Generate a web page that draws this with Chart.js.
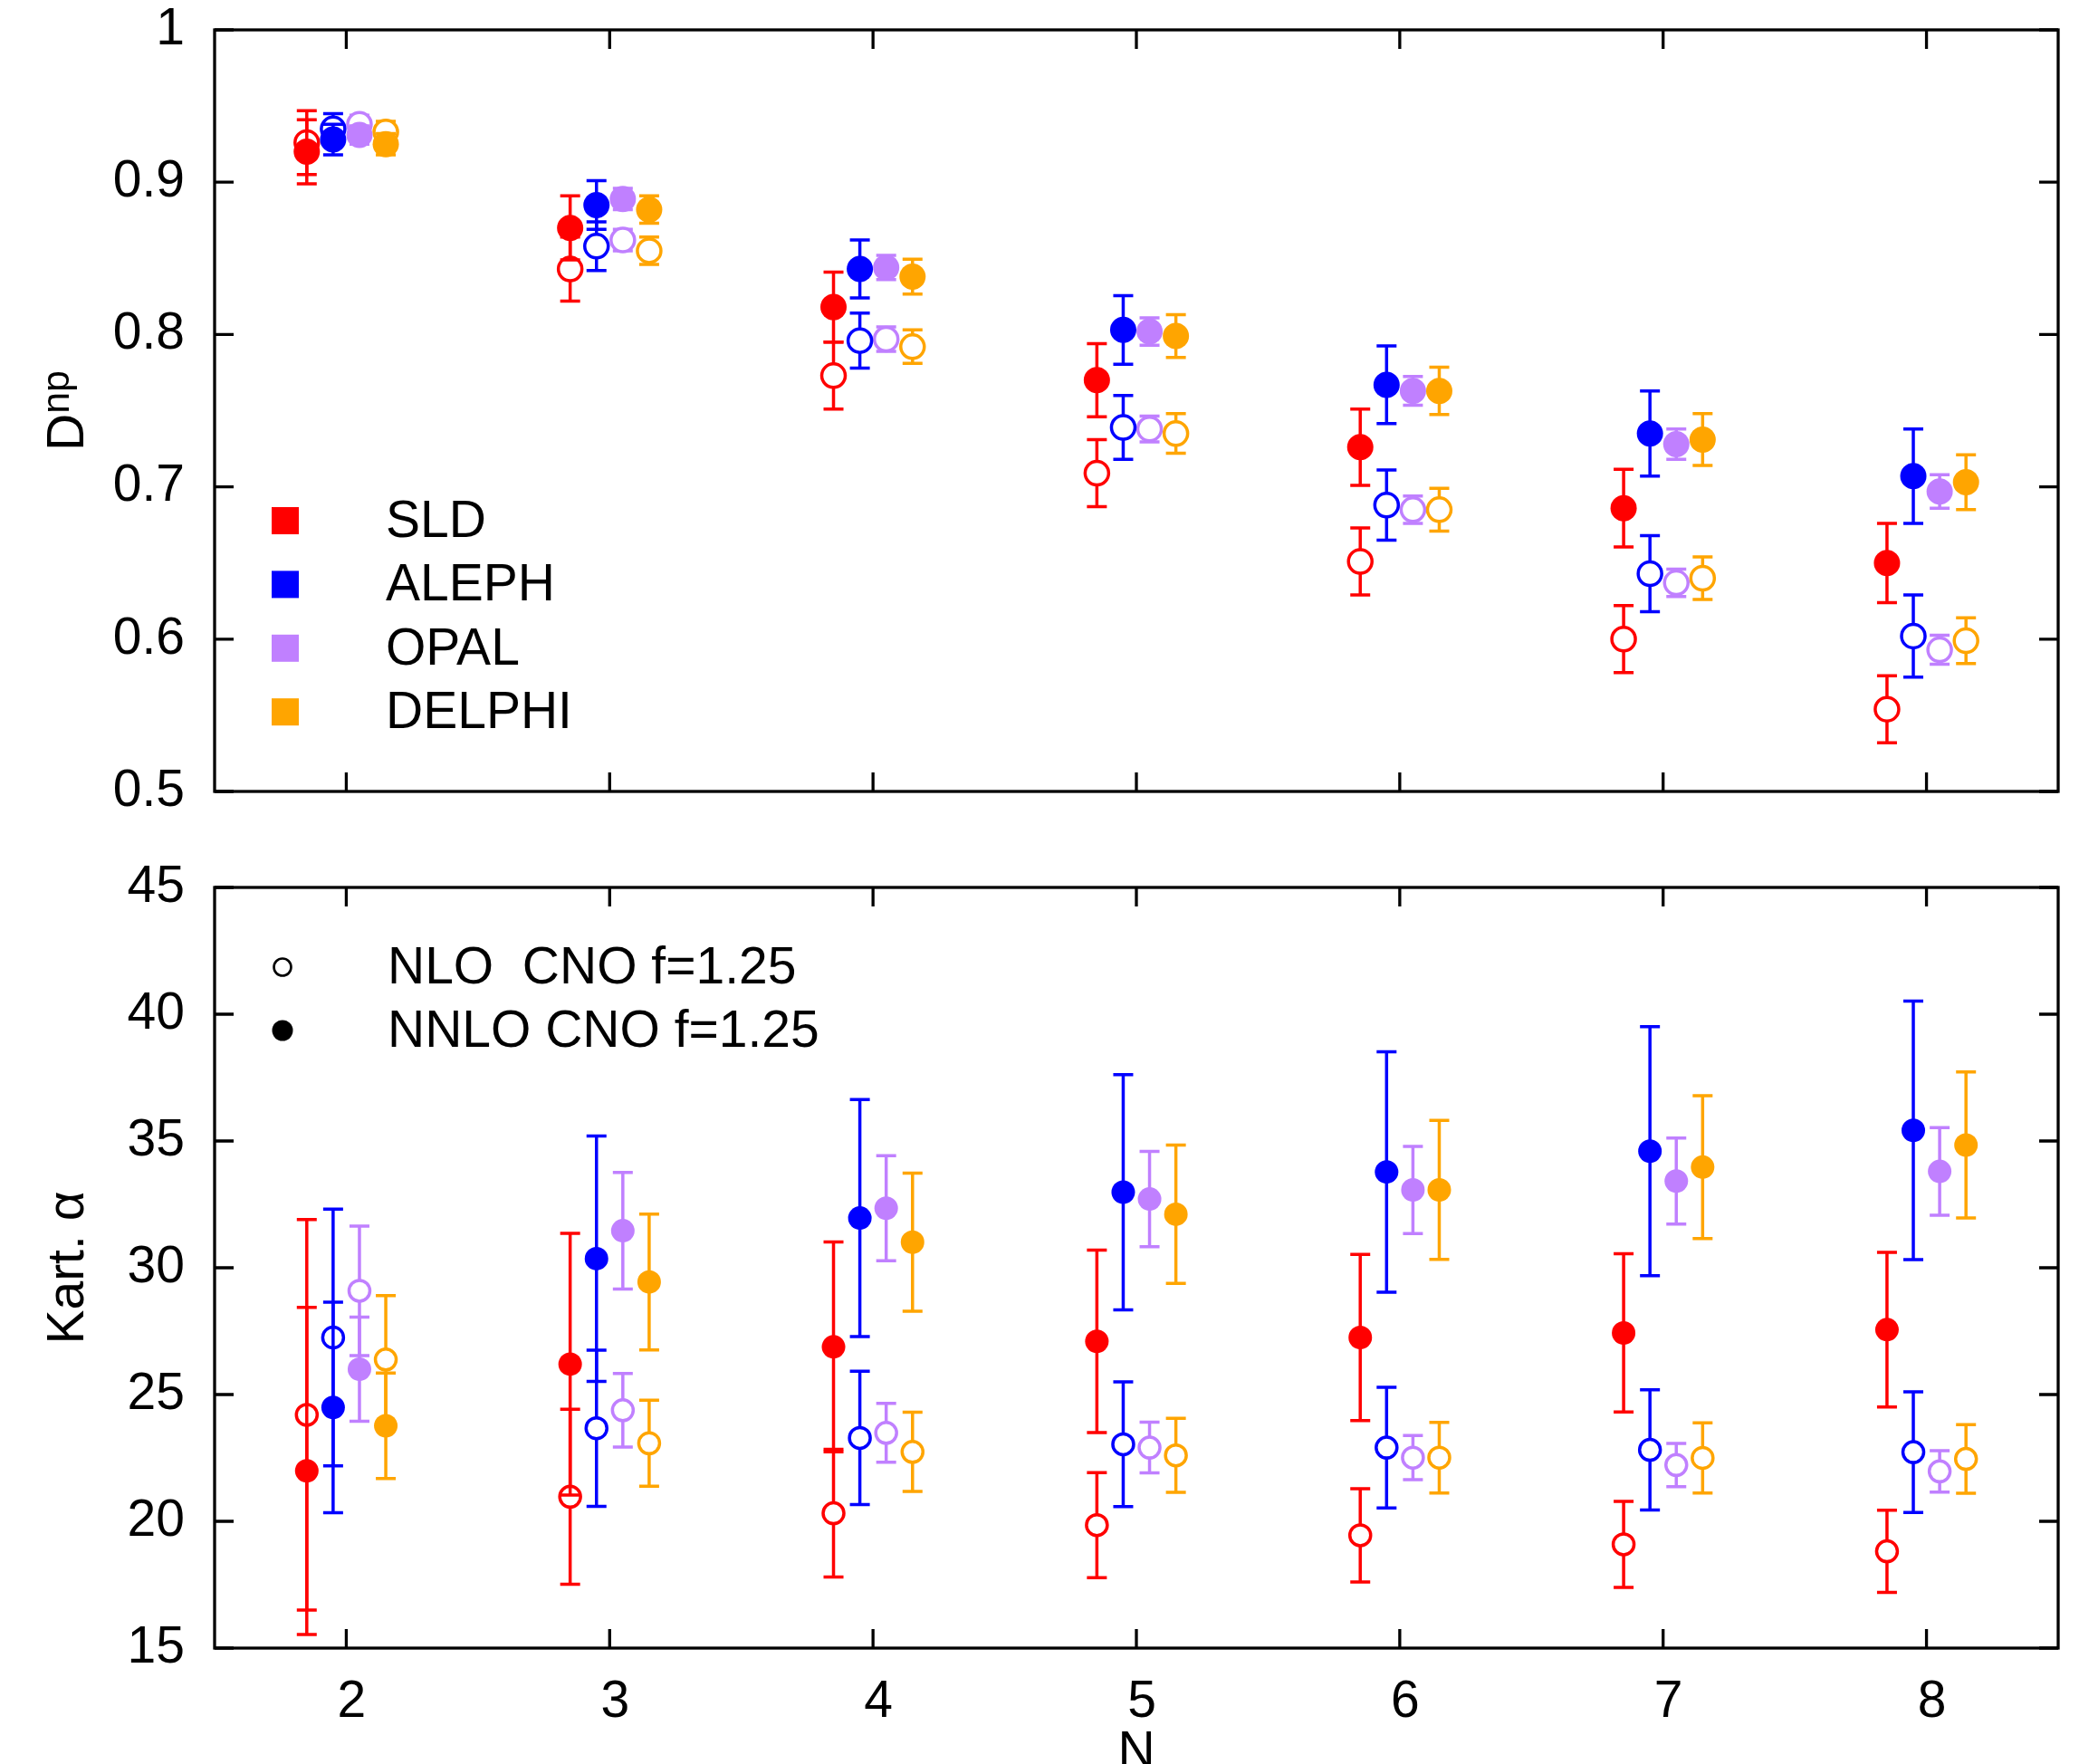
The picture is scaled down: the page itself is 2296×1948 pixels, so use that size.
<!DOCTYPE html>
<html>
<head>
<meta charset="utf-8">
<script src="https://cdn.jsdelivr.net/npm/chart.js@4.4.1/dist/chart.umd.min.js"></script>
<style>
  body { margin: 0; background: #fff; }
  canvas { display: block; }
</style>
</head>
<body>
<canvas id="topChart" width="2296" height="940"></canvas>
<canvas id="bottomChart" width="2296" height="1008"></canvas>
<script>
// N values and experiments
const nValues = [2, 3, 4, 5, 6, 7, 8];
const experiments = ['SLD', 'ALEPH', 'OPAL', 'DELPHI'];
const orderLabels = ['NLO  CNO f=1.25', 'NNLO CNO f=1.25'];
const dnpTicks = [0.5, 0.6, 0.7, 0.8, 0.9, 1];
const kartTicks = [15, 20, 25, 30, 35, 40, 45];

// D^np, NLO (open circles)
const dnpNloSLD = [0.926, 0.843, 0.773, 0.709, 0.651, 0.600, 0.554];
const dnpNloSLDErr = [0.021, 0.021, 0.022, 0.022, 0.022, 0.022, 0.022];
const dnpNloALEPH = [0.935, 0.858, 0.796, 0.739, 0.688, 0.643, 0.602];
const dnpNloALEPHErr = [0.010, 0.016, 0.018, 0.021, 0.023, 0.025, 0.027];
const dnpNloOPAL = [0.938, 0.862, 0.797, 0.738, 0.685, 0.637, 0.593];
const dnpNloOPALErr = [0.006, 0.007, 0.008, 0.0085, 0.009, 0.009, 0.0095];
const dnpNloDELPHI = [0.933, 0.855, 0.792, 0.735, 0.685, 0.640, 0.599];
const dnpNloDELPHIErr = [0.007, 0.009, 0.011, 0.013, 0.014, 0.014, 0.015];

// D^np, NNLO (filled circles)
const dnpNnloSLD = [0.920, 0.870, 0.818, 0.770, 0.726, 0.686, 0.650];
const dnpNnloSLDErr = [0.021, 0.021, 0.023, 0.024, 0.025, 0.0255, 0.026];
const dnpNnloALEPH = [0.928, 0.885, 0.843, 0.803, 0.767, 0.735, 0.707];
const dnpNnloALEPHErr = [0.010, 0.016, 0.019, 0.0225, 0.0255, 0.028, 0.031];
const dnpNnloOPAL = [0.931, 0.889, 0.844, 0.802, 0.763, 0.728, 0.697];
const dnpNnloOPALErr = [0.006, 0.007, 0.008, 0.009, 0.0095, 0.010, 0.011];
const dnpNnloDELPHI = [0.925, 0.882, 0.838, 0.799, 0.763, 0.731, 0.703];
const dnpNnloDELPHIErr = [0.007, 0.009, 0.0115, 0.014, 0.0155, 0.017, 0.018];

// Kart. alpha, NLO (open circles)
const kartNloSLD = [24.2, 20.97, 20.32, 19.85, 19.45, 19.09, 18.82];
const kartNloSLDErr = [7.7, 3.45, 2.52, 2.07, 1.84, 1.70, 1.62];
const kartNloALEPH = [27.25, 23.67, 23.29, 23.04, 22.91, 22.82, 22.73];
const kartNloALEPHErr = [5.06, 3.08, 2.63, 2.46, 2.38, 2.37, 2.38];
const kartNloOPAL = [29.09, 24.38, 23.49, 22.91, 22.51, 22.22, 21.97];
const kartNloOPALErr = [2.55, 1.45, 1.16, 1.0, 0.87, 0.85, 0.82];
const kartNloDELPHI = [26.38, 23.08, 22.74, 22.6, 22.51, 22.5, 22.46];
const kartNloDELPHIErr = [2.52, 1.70, 1.56, 1.46, 1.39, 1.38, 1.35];

// Kart. alpha, NNLO (filled circles)
const kartNnloSLD = [21.99, 26.2, 26.88, 27.1, 27.25, 27.43, 27.56];
const kartNnloSLDErr = [6.45, 5.16, 4.14, 3.6, 3.28, 3.12, 3.05];
const kartNnloALEPH = [24.49, 30.36, 31.96, 32.98, 33.78, 34.6, 35.42];
const kartNnloALEPHErr = [4.15, 4.84, 4.67, 4.64, 4.74, 4.91, 5.1];
const kartNnloOPAL = [26.0, 31.46, 32.35, 32.71, 33.07, 33.42, 33.8];
const kartNnloOPALErr = [2.05, 2.3, 2.07, 1.88, 1.72, 1.7, 1.73];
const kartNnloDELPHI = [23.77, 29.44, 31.01, 32.11, 33.07, 33.97, 34.84];
const kartNnloDELPHIErr = [2.08, 2.68, 2.72, 2.73, 2.74, 2.82, 2.88];

// styling
const colors = ['#ff0000', '#0000ff', '#c080ff', '#ffa500'];
const offsets = [-0.15, -0.05, 0.05, 0.15]; // horizontal shift of each experiment
const FONT = '"Liberation Sans", Arial, Helvetica, sans-serif';
const FS = 57;
const LW = 3.5;

Chart.defaults.font.family = FONT;
Chart.defaults.color = '#000';

// error bars drawn just before each dataset so the circles sit on top
const errorBars = {
  id: 'errorBars',
  beforeDatasetDraw(chart, args) {
    const ds = chart.data.datasets[args.index];
    const yScale = chart.scales.y;
    const ctx = chart.ctx;
    ctx.save();
    ctx.strokeStyle = ds.pointBorderColor;
    ctx.lineWidth = LW;
    ds.data.forEach((p, i) => {
      const x = args.meta.data[i].x;
      const top = yScale.getPixelForValue(p.y + p.err);
      const bot = yScale.getPixelForValue(p.y - p.err);
      ctx.beginPath();
      ctx.moveTo(x, top); ctx.lineTo(x, bot);
      ctx.moveTo(x - 11, top); ctx.lineTo(x + 11, top);
      ctx.moveTo(x - 11, bot); ctx.lineTo(x + 11, bot);
      ctx.stroke();
    });
    ctx.restore();
  }
};

// box round the plot with inward ticks on all four sides
const frame = {
  id: 'frame',
  afterDraw(chart) {
    const { ctx, chartArea: a } = chart;
    const xs = chart.scales.x, ys = chart.scales.y;
    ctx.save();
    ctx.strokeStyle = '#000';
    ctx.lineWidth = 3.3;
    ctx.strokeRect(a.left, a.top, a.right - a.left, a.bottom - a.top);
    ctx.beginPath();
    xs.ticks.forEach(t => {
      const px = xs.getPixelForValue(t.value);
      ctx.moveTo(px, a.bottom); ctx.lineTo(px, a.bottom - 21);
      ctx.moveTo(px, a.top); ctx.lineTo(px, a.top + 21);
    });
    ys.ticks.forEach(t => {
      const py = ys.getPixelForValue(t.value);
      ctx.moveTo(a.left, py); ctx.lineTo(a.left + 21, py);
      ctx.moveTo(a.right, py); ctx.lineTo(a.right - 21, py);
    });
    ctx.stroke();
    ctx.restore();
  }
};

// axis titles + legends for each panel
const decor = {
  id: 'decor',
  afterDraw(chart, args, opts) {
    const ctx = chart.ctx;
    const a = chart.chartArea;
    const cy = (a.top + a.bottom) / 2;
    ctx.save();
    ctx.fillStyle = '#000';
    ctx.textBaseline = 'alphabetic';

    // rotated y title, baseline at x=92
    ctx.save();
    ctx.translate(92, cy);
    ctx.rotate(-Math.PI / 2);
    if (opts.panel === 'top') {
      ctx.font = FS + 'px ' + FONT;
      const wD = ctx.measureText('D').width;
      ctx.font = '43px ' + FONT;
      const wSup = ctx.measureText('np').width;
      const start = -(wD + wSup) / 2;
      ctx.textAlign = 'left';
      ctx.font = FS + 'px ' + FONT;
      ctx.fillText('D', start, 0);
      ctx.font = '43px ' + FONT;
      ctx.fillText('np', start + wD, -16);
    } else {
      ctx.font = FS + 'px ' + FONT;
      ctx.textAlign = 'center';
      ctx.fillText('Kart. α', 0, 0);
    }
    ctx.restore();

    ctx.font = FS + 'px ' + FONT;
    ctx.textAlign = 'left';
    ctx.textBaseline = 'middle';
    if (opts.panel === 'top') {
      experiments.forEach((name, e) => {
        const rowY = 575 + e * 70.4;
        ctx.fillStyle = colors[e];
        ctx.fillRect(300, rowY - 15, 30, 30);
        ctx.fillStyle = '#000';
        ctx.fillText(name, 426, rowY + 2);
      });
    } else {
      orderLabels.forEach((txt, k) => {
        const rowY = 1068 - 940 + k * 70;
        ctx.beginPath();
        if (k === 0) {
          ctx.arc(312, rowY, 9.5, 0, Math.PI * 2);
          ctx.lineWidth = 2.6;
          ctx.strokeStyle = '#000';
          ctx.stroke();
        } else {
          ctx.arc(312, rowY, 11.5, 0, Math.PI * 2);
          ctx.fill();
        }
        ctx.fillText(txt, 428, rowY + 2);
      });
      // x title, partly cut at the bottom edge like the original
      ctx.textAlign = 'center';
      ctx.textBaseline = 'alphabetic';
      const xs = chart.scales.x;
      ctx.fillText('N', xs.getPixelForValue(5), 1952 - 940);
    }
    ctx.restore();
  }
};

function buildSets(nlo, nloErr, nnlo, nnloErr, rFilled, rOpen) {
  const sets = [];
  experiments.forEach((name, e) => {
    sets.push({
      label: name + ' NLO',
      data: nValues.map((n, i) => ({ x: n + offsets[e], y: nlo[e][i], err: nloErr[e][i] })),
      pointStyle: 'circle',
      pointRadius: rOpen,
      pointBorderWidth: LW,
      pointBorderColor: colors[e],
      pointBackgroundColor: '#fff',
      showLine: false,
      order: 2
    });
  });
  experiments.forEach((name, e) => {
    sets.push({
      label: name + ' NNLO',
      data: nValues.map((n, i) => ({ x: n + offsets[e], y: nnlo[e][i], err: nnloErr[e][i] })),
      pointStyle: 'circle',
      pointRadius: rFilled,
      pointBorderWidth: 0,
      pointBorderColor: colors[e],
      pointBackgroundColor: colors[e],
      showLine: false,
      order: 1
    });
  });
  return sets;
}

function makeOptions(panel, yMin, yMax, yTicks, topPad, xHeight, showX) {
  return {
    responsive: false,
    animation: false,
    devicePixelRatio: 1,
    events: [],
    layout: { padding: { top: topPad, right: 23, left: 0, bottom: 0 } },
    plugins: {
      legend: { display: false },
      tooltip: { enabled: false },
      decor: { panel: panel }
    },
    scales: {
      x: {
        type: 'linear',
        min: 1.5,
        max: 8.5,
        afterBuildTicks: (s) => { s.ticks = nValues.map(v => ({ value: v })); },
        afterFit: (s) => { s.height = xHeight; s.paddingLeft = 0; s.paddingRight = 0; },
        grid: { display: false, drawTicks: false },
        border: { display: false },
        ticks: {
          display: showX,
          padding: 32,
          labelOffset: 6,
          maxRotation: 0,
          autoSkip: false,
          font: { size: FS, lineHeight: 1 },
          callback: (v) => String(v)
        }
      },
      y: {
        type: 'linear',
        min: yMin,
        max: yMax,
        afterBuildTicks: (s) => { s.ticks = yTicks.map(v => ({ value: v })); },
        // fixed width, and no extra room for the end labels so the plot box sits where we want
        afterFit: (s) => { s.width = 237; s.paddingTop = 0; s.paddingBottom = 0; },
        grid: { display: false, drawTicks: false },
        border: { display: false },
        ticks: {
          padding: 33,
          font: { size: FS, lineHeight: 1 },
          callback: (v) => String(+v.toFixed(2))
        }
      }
    }
  };
}

new Chart(document.getElementById('topChart').getContext('2d'), {
  type: 'scatter',
  data: {
    datasets: buildSets(
      [dnpNloSLD, dnpNloALEPH, dnpNloOPAL, dnpNloDELPHI],
      [dnpNloSLDErr, dnpNloALEPHErr, dnpNloOPALErr, dnpNloDELPHIErr],
      [dnpNnloSLD, dnpNnloALEPH, dnpNnloOPAL, dnpNnloDELPHI],
      [dnpNnloSLDErr, dnpNnloALEPHErr, dnpNnloOPALErr, dnpNnloDELPHIErr],
      14.5, 13)
  },
  options: makeOptions('top', 0.5, 1, dnpTicks, 33, 66, false),
  plugins: [errorBars, frame, decor]
});

new Chart(document.getElementById('bottomChart').getContext('2d'), {
  type: 'scatter',
  data: {
    datasets: buildSets(
      [kartNloSLD, kartNloALEPH, kartNloOPAL, kartNloDELPHI],
      [kartNloSLDErr, kartNloALEPHErr, kartNloOPALErr, kartNloDELPHIErr],
      [kartNnloSLD, kartNnloALEPH, kartNnloOPAL, kartNnloDELPHI],
      [kartNnloSLDErr, kartNnloALEPHErr, kartNnloOPALErr, kartNnloDELPHIErr],
      13, 11.5)
  },
  options: makeOptions('bottom', 15, 45, kartTicks, 40, 128, true),
  plugins: [errorBars, frame, decor]
});
</script>
</body>
</html>
